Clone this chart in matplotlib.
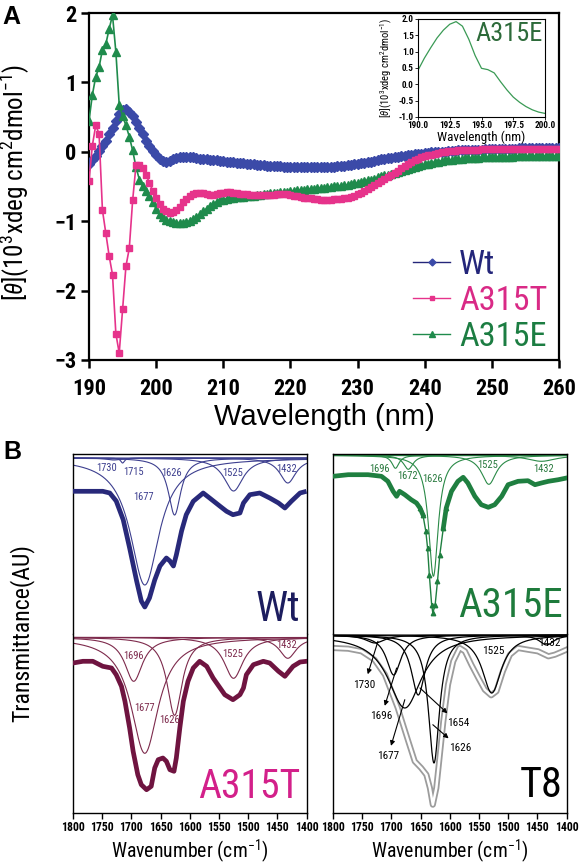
import numpy as np
import matplotlib
matplotlib.use("Agg")
import matplotlib.pyplot as plt
from matplotlib import font_manager as fm

# ---- pick a condensed sans font if one is installed ----
_fonts = {}
for _f in fm.fontManager.ttflist:
    _fonts.setdefault(_f.name, set()).add(str(_f.stretch))

NARROW, STRETCH, SCALE = "Liberation Sans", "normal", 0.84
for _n, _sc in [("Liberation Sans Narrow", 1.0), ("Arial Narrow", 1.0),
                ("Nimbus Sans Narrow", 1.0), ("Roboto Condensed", 0.95),
                ("Noto Sans Condensed", 0.95), ("Open Sans Condensed", 0.95)]:
    if _n in _fonts:
        NARROW, STRETCH, SCALE = _n, "normal", _sc
        break
else:
    for _n in ["Roboto", "Noto Sans", "Open Sans"]:
        _st = [s for s in _fonts.get(_n, ()) if "condensed" in s]
        if _st:
            NARROW, STRETCH, SCALE = _n, ("condensed" if "condensed" in _st
                                          else _st[0]), 0.95
            break
REG = "Liberation Sans"


def nfs(x):
    return round(x * SCALE, 1)


plt.rcParams["font.family"] = [NARROW, "DejaVu Sans"]
plt.rcParams["font.stretch"] = STRETCH
plt.rcParams["mathtext.fontset"] = "custom"
plt.rcParams["mathtext.rm"] = NARROW
plt.rcParams["mathtext.it"] = NARROW + ":italic"
plt.rcParams["mathtext.bf"] = NARROW + ":bold"

# ---------------- Panel A data (CD spectra) ----------------
cd_wavelength = np.arange(190, 260.01, 0.5)
cd_wt = [
    -0.17, -0.12, -0.06, 0.01, 0.08, 0.16, 0.25, 0.35, 0.45, 0.54,
    0.60, 0.61, 0.57, 0.51, 0.43, 0.34, 0.25, 0.16, 0.08, 0.01,
    -0.05, -0.10, -0.13, -0.14, -0.13, -0.11, -0.09, -0.08, -0.07, -0.07,
    -0.075, -0.08, -0.09, -0.10, -0.105, -0.11, -0.115, -0.12, -0.125, -0.13,
    -0.135, -0.14, -0.145, -0.15, -0.155, -0.16, -0.165, -0.17, -0.175, -0.18,
    -0.185, -0.19, -0.195, -0.20, -0.20, -0.205, -0.21, -0.21, -0.215, -0.215,
    -0.22, -0.22, -0.22, -0.225, -0.225, -0.225, -0.225, -0.225, -0.225, -0.225,
    -0.225, -0.22, -0.22, -0.215, -0.21, -0.205, -0.20, -0.195, -0.19, -0.18,
    -0.17, -0.165, -0.16, -0.15, -0.14, -0.13, -0.12, -0.11, -0.10, -0.095,
    -0.09, -0.08, -0.07, -0.065, -0.06, -0.05, -0.04, -0.035, -0.03, -0.025,
    -0.02, -0.015, -0.01, -0.005, 0.0, 0.0, 0.0, 0.005, 0.01, 0.015,
    0.02, 0.02, 0.02, 0.025, 0.03, 0.03, 0.03, 0.03, 0.035, 0.035,
    0.04, 0.04, 0.04, 0.04, 0.045, 0.045, 0.045, 0.045, 0.05, 0.05,
    0.05, 0.05, 0.05, 0.05, 0.05, 0.05, 0.05, 0.05, 0.05, 0.05,
    0.05]
cd_a315t = [
    -0.42, 0.09, 0.38, 0.26, -0.84, -1.17, -1.50, -1.77, -2.62, -2.90,
    -2.27, -1.65, -1.39, -0.70, -0.19, -0.19, -0.24, -0.33, -0.45, -0.56,
    -0.66, -0.75, -0.82, -0.86, -0.88, -0.87, -0.84, -0.79, -0.73, -0.68,
    -0.64, -0.61, -0.59, -0.59, -0.60, -0.61, -0.62, -0.62, -0.61, -0.60,
    -0.59, -0.585, -0.585, -0.59, -0.60, -0.605, -0.61, -0.615, -0.62, -0.62,
    -0.62, -0.62, -0.62, -0.62, -0.62, -0.62, -0.615, -0.61, -0.61, -0.615,
    -0.62, -0.63, -0.64, -0.65, -0.66, -0.665, -0.67, -0.68, -0.685, -0.69,
    -0.69, -0.69, -0.69, -0.685, -0.68, -0.675, -0.67, -0.66, -0.65, -0.63,
    -0.61, -0.59, -0.57, -0.54, -0.51, -0.48, -0.45, -0.42, -0.39, -0.36,
    -0.33, -0.30, -0.27, -0.24, -0.21, -0.18, -0.15, -0.12, -0.10, -0.08,
    -0.06, -0.05, -0.04, -0.03, -0.02, -0.01, 0.0, 0.005, 0.01, 0.015,
    0.02, 0.02, 0.025, 0.025, 0.03, 0.03, 0.03, 0.035, 0.035, 0.035,
    0.04, 0.04, 0.04, 0.04, 0.04, 0.04, 0.04, 0.04, 0.04, 0.04,
    0.04, 0.04, 0.04, 0.04, 0.04, 0.04, 0.04, 0.04, 0.04, 0.04,
    0.04]
cd_a315e = [
    0.45, 0.82, 1.08, 1.22, 1.47, 1.55, 1.77, 1.97, 1.44, 0.68,
    0.52, 0.38, 0.22, 0.02, -0.22, -0.40, -0.50, -0.56, -0.64, -0.73,
    -0.82, -0.89, -0.94, -0.98, -1.0, -1.01, -1.02, -1.02, -1.02, -1.01,
    -1.0, -0.97, -0.94, -0.90, -0.86, -0.82, -0.78, -0.75, -0.72, -0.70,
    -0.69, -0.68, -0.67, -0.66, -0.655, -0.65, -0.645, -0.64, -0.635, -0.63,
    -0.625, -0.62, -0.61, -0.605, -0.60, -0.595, -0.59, -0.585, -0.58, -0.575,
    -0.565, -0.56, -0.555, -0.55, -0.545, -0.54, -0.535, -0.53, -0.525, -0.52,
    -0.515, -0.51, -0.505, -0.50, -0.495, -0.49, -0.485, -0.475, -0.465, -0.455,
    -0.445, -0.435, -0.42, -0.41, -0.40, -0.385, -0.37, -0.355, -0.34, -0.33,
    -0.32, -0.305, -0.29, -0.28, -0.265, -0.25, -0.235, -0.22, -0.21, -0.195,
    -0.18, -0.17, -0.16, -0.15, -0.14, -0.13, -0.125, -0.12, -0.115, -0.11,
    -0.105, -0.10, -0.095, -0.09, -0.09, -0.085, -0.085, -0.08, -0.08, -0.08,
    -0.08, -0.075, -0.075, -0.07, -0.07, -0.07, -0.07, -0.065, -0.065, -0.065,
    -0.065, -0.065, -0.06, -0.06, -0.06, -0.06, -0.06, -0.06, -0.06, -0.06,
    -0.06]
cd_series_names = ["Wt", "A315T", "A315E"]

# inset (A315E, 190-200 nm)
inset_wavelength = np.arange(190, 200.01, 0.5)
inset_a315e = [0.43, 0.80, 1.12, 1.42, 1.66, 1.84, 1.92, 1.78, 1.38, 0.88,
               0.49, 0.45, 0.35, 0.08, -0.17, -0.39, -0.55, -0.68, -0.78, -0.85,
               -0.89]

# ---------------- Panel B data (FTIR) ----------------
wt_w = [1800, 1749, 1737, 1726, 1714, 1703, 1691, 1683, 1677, 1669, 1660, 1651,
        1640, 1634, 1628, 1623, 1614, 1606, 1594, 1577, 1566, 1548, 1537, 1526,
        1514, 1508, 1497, 1480, 1463, 1448, 1437, 1426, 1411, 1400]
wt_t = [142.7, 142.7, 141, 133, 114.3, 86, 53, 33, 27, 36, 54, 68,
        76, 73, 68, 79, 103, 119.3, 132.7, 141, 136, 127.7, 122.7, 119.3,
        121, 131, 139.3, 141, 136, 131, 126, 132.7, 141, 142.7]
wt_band_center = [1730, 1715, 1677, 1626, 1525, 1432]
wt_band_depth = [2, 5, 127, 57, 33, 25]
wt_band_fwhm = [30, 8, 60, 26, 40, 34]
wt_baseline = 176
wt_labels = ["1730", "1715", "1677", "1626", "1525", "1432"]
wt_label_w = [1742, 1697, 1679, 1631, 1526, 1435]
wt_label_t = [166, 162, 137, 161, 161, 165.3]

a315t_w = [1800, 1783, 1766, 1749, 1734, 1726, 1717, 1711, 1703, 1697, 1689,
           1683, 1674, 1666, 1660, 1654, 1646, 1640, 1634, 1627, 1623, 1617,
           1611, 1603, 1594, 1583, 1571, 1560, 1548, 1540, 1526, 1514, 1508,
           1503, 1491, 1474, 1463, 1448, 1437, 1423, 1411, 1400]
a315t_t = [150, 151.7, 151.7, 146.7, 145, 138.3, 126.7, 111.7, 85, 61.7, 38.3,
           28.3, 23.3, 26.7, 45, 53.3, 55, 51.7, 43.3, 41.7, 55, 85,
           111.7, 131.7, 145, 151.7, 146.7, 135, 125, 118.3, 113.3, 118.3, 125,
           138.3, 148.3, 151.7, 150, 141.7, 136.7, 146.7, 151, 151.7]
a315t_band_center = [1696, 1677, 1626, 1525, 1432]
a315t_band_depth = [44, 116, 78, 41, 21]
a315t_band_fwhm = [37, 57, 31, 40, 35]
a315t_baseline = 175.7
a315t_labels = ["1696", "1677", "1626", "1525", "1432"]
a315t_label_w = [1697, 1677, 1635, 1526, 1435]
a315t_label_t = [156.7, 105, 93.3, 159, 168.3]

a315e_w = [1800, 1774, 1740, 1717, 1706, 1697, 1691, 1686, 1677, 1666, 1657,
           1651, 1646, 1641, 1638, 1635, 1631, 1629, 1625, 1621, 1617, 1611,
           1606, 1597, 1586, 1577, 1569, 1557, 1546, 1534, 1523, 1511, 1500,
           1483, 1466, 1454, 1443, 1431, 1414, 1400]
a315e_t = [157.7, 159.3, 159.3, 157.7, 152.7, 142.7, 137.7, 142.7, 139.3, 134.3,
           131, 126, 119.3, 102.7, 86, 59.3, 29.3, 21, 29.3, 52.7, 79.3, 106,
           126, 142.7, 152.7, 156.7, 151, 137.7, 129.3, 126.7, 129.3, 137.7,
           149.3, 152.7, 153.3, 149.3, 151, 152.7, 154.3, 156]
a315e_band_center = [1693, 1671, 1628, 1533, 1443]
a315e_band_depth = [13, 14, 121, 29, 6]
a315e_band_fwhm = [15, 20, 20, 31, 60]
a315e_baseline = 178.7
a315e_labels = ["1696", "1672", "1626", "1525", "1432"]
a315e_label_w = [1720, 1672.6, 1630, 1535, 1440]
a315e_label_t = [165.3, 157.7, 155.3, 169.3, 165.3]

t8_w = [1800, 1774, 1751, 1729, 1711, 1700, 1689, 1680, 1671, 1660, 1649,
        1640, 1634, 1629, 1623, 1617, 1611, 1603, 1594, 1583, 1574, 1563,
        1551, 1540, 1529, 1520, 1509, 1497, 1483, 1466, 1449, 1431, 1420,
        1409, 1400]
t8_t = [165, 164.3, 161.7, 153.3, 138.3, 121.7, 105, 88.3, 71.7, 51.7, 45,
        38.3, 25, 8.3, 25, 58.3, 91.7, 128.3, 151.7, 165, 161.7, 148.3,
        135, 123.3, 117.7, 121.7, 141.7, 158.3, 165, 163.3, 161.7, 156.7, 158.3,
        161, 163.3]
t8_band_center = [1728, 1696, 1677, 1654, 1627, 1528, 1434]
t8_band_depth = [8, 40, 73, 60, 128, 58, 10]
t8_band_fwhm = [40, 30, 70, 29, 23, 40, 30]
t8_baseline = 178
t8_labels = ["1730", "1696", "1677", "1654", "1626"]
t8_label_w = [1746, 1717, 1706, 1586, 1583]
t8_label_t = [128.3, 96.7, 56.7, 90, 65]
t8_arrow_w = [1723, 1691, 1677, 1651, 1629]
t8_arrow_t = [171.7, 145, 113.3, 125, 88.3]
t8_plain_labels = ["1525", "1432"]
t8_plain_w = [1526, 1429]
t8_plain_t = [161.7, 170]

ftir_ticks = [1800, 1750, 1700, 1650, 1600, 1550, 1500, 1450, 1400]

# ---------------- colours ----------------
C_WT_A, C_T_A, C_E_A = "#3b4aa8", "#e6338b", "#1f8b4c"
C_WT_TXT, C_T_TXT, C_E_TXT = "#24267a", "#d92a86", "#1c7d42"

# ---------------- figure ----------------
W, H = 582, 865
fig = plt.figure(figsize=(W / 100, H / 100), dpi=100)


def box(l, t, r, b):
    return [l / W, 1 - b / H, (r - l) / W, (b - t) / H]


# ===== Panel A =====
axA = fig.add_axes(box(89, 13, 559, 360))
axA.plot(cd_wavelength, cd_wt, color=C_WT_A, lw=1.2, marker="D", ms=5.0,
         mec=C_WT_A, mfc=C_WT_A, label=cd_series_names[0], zorder=3)
axA.plot(cd_wavelength, cd_a315e, color=C_E_A, lw=1.2, marker="^", ms=5.6,
         mec=C_E_A, mfc=C_E_A, label=cd_series_names[2], zorder=4)
axA.plot(cd_wavelength, cd_a315t, color=C_T_A, lw=1.2, marker="s", ms=4.6,
         mec=C_T_A, mfc=C_T_A, label=cd_series_names[1], zorder=5)
axA.set_xlim(190, 260)
axA.set_ylim(-3, 2)
axA.set_xticks(range(190, 261, 10))
axA.set_yticks(range(-3, 3))
for s in axA.spines.values():
    s.set_linewidth(1.6)
axA.tick_params(axis="both", direction="out", length=6, width=1.8,
                labelsize=nfs(17))
axA.tick_params(axis="x", pad=7)
axA.tick_params(axis="y", pad=3)
for lab in axA.get_xticklabels() + axA.get_yticklabels():
    lab.set_fontweight("bold")
axA.set_xlabel("Wavelength (nm)", fontsize=21, family=[REG, "DejaVu Sans"],
               va="center")
axA.xaxis.set_label_coords(0.5, -0.164)
axA.set_ylabel(r"$[\mathit{\theta}]$(10$^3$xdeg cm$^2$dmol$^{-1}$)",
               fontsize=nfs(19), va="center")
axA.yaxis.set_label_coords(-0.157, 0.513)

h = axA.get_legend_handles_labels()
handles = [h[0][0], h[0][2], h[0][1]]
labels = ["Wt", "A315T", "A315E"]
leg = axA.legend(handles, labels, loc="lower right",
                 bbox_to_anchor=(0.975, 0.02), frameon=False,
                 fontsize=nfs(26), handlelength=1.1, handletextpad=0.25,
                 labelspacing=0.12, numpoints=1, borderpad=0, borderaxespad=0,
                 markerscale=0.7)
for txt, c in zip(leg.get_texts(), [C_WT_TXT, C_T_TXT, C_E_TXT]):
    txt.set_color(c)
for lh, c in zip(leg.legend_handles, ["#24267a", C_T_A, C_E_A]):
    lh.set_color(c)
    lh.set_linewidth(1.0)

# inset
axIn = fig.add_axes(box(418, 19, 545, 117))
axIn.plot(inset_wavelength, inset_a315e, color="#3a9a55", lw=0.9)
axIn.set_xlim(190, 200)
axIn.set_ylim(-1, 2)
axIn.set_xticks([190, 192.5, 195, 197.5, 200])
axIn.set_xticklabels(["190.0", "192.5", "195.0", "197.5", "200.0"])
axIn.set_yticks([-1, -0.5, 0, 0.5, 1, 1.5, 2])
axIn.set_yticklabels(["-1.0", "-0.5", "0.0", "0.5", "1.0", "1.5", "2.0"])
axIn.tick_params(direction="out", length=2, width=0.6, labelsize=nfs(7),
                 pad=1)
for lab in axIn.get_xticklabels() + axIn.get_yticklabels():
    lab.set_fontweight("bold")
for s in axIn.spines.values():
    s.set_linewidth(0.8)
axIn.set_xlabel("Wavelength (nm)", fontsize=nfs(10), labelpad=0)
axIn.set_ylabel(r"$[\mathit{\theta}]$(10$^3$xdeg cm$^2$dmol$^{-1}$)",
                fontsize=nfs(8), va="center")
axIn.yaxis.set_label_coords(-0.25, 0.5)
axIn.text(0.985, 0.965, "A315E", transform=axIn.transAxes, ha="right",
          va="top", fontsize=nfs(20), color="#2d6b3a")

fig.text(2 / W, 1 - 17 / H, "A", fontsize=18, fontweight="bold",
         family=[REG, "DejaVu Sans"], va="center", ha="left")
fig.text(3 / W, 1 - 452 / H, "B", fontsize=18, fontweight="bold",
         family=[REG, "DejaVu Sans"], va="center", ha="left")

# ===== Panel B =====
band_grid = np.linspace(1800, 1400, 801)


def draw_bands(ax, centers, depths, fwhms, base, color, lw):
    for c, d, f in zip(centers, depths, fwhms):
        prof = base - d / (1.0 + ((band_grid - c) / (f / 2.0)) ** 2)
        ax.plot(band_grid, prof, color=color, lw=lw, zorder=2)


def setup_b(ax, top, height):
    ax.set_xlim(1800, 1400)
    ax.set_ylim(0, height)
    ax.set_yticks([])
    for s in ax.spines.values():
        s.set_linewidth(1.0)
    if top:
        ax.spines["bottom"].set_visible(False)
        ax.set_xticks([])
    else:
        ax.spines["top"].set_visible(False)
        ax.set_xticks(ftir_ticks)
        ax.tick_params(axis="x", direction="out", length=4, width=1.0,
                       labelsize=nfs(9), pad=2)
        for lab in ax.get_xticklabels():
            lab.set_fontweight("bold")
        ax.set_xlabel("Wavenumber (cm$^{-1}$)", fontsize=nfs(15), labelpad=2)


axWt = fig.add_axes(box(73, 454, 306.5, 634))
axT = fig.add_axes(box(73, 634, 306.5, 813))
axE = fig.add_axes(box(333, 454, 566.5, 634))
axT8 = fig.add_axes(box(333, 634, 566.5, 813))
setup_b(axWt, True, 180)
setup_b(axT, False, 179)
setup_b(axE, True, 180)
setup_b(axT8, False, 179)

# Wt
draw_bands(axWt, wt_band_center, wt_band_depth, wt_band_fwhm, wt_baseline,
           "#3d3f8f", 0.8)
axWt.plot(wt_w, wt_t, color="#28297a", lw=3.4, solid_joinstyle="round",
          solid_capstyle="butt", zorder=3)
for s, x, y in zip(wt_labels, wt_label_w, wt_label_t):
    axWt.text(x, y, s, fontsize=nfs(8), color="#3d3f8f", ha="center",
              va="center", zorder=4)
axWt.text(0.972, 0.02, "Wt", transform=axWt.transAxes, ha="right",
          va="bottom", fontsize=nfs(32), color="#1c1d5e")

# A315T
draw_bands(axT, a315t_band_center, a315t_band_depth, a315t_band_fwhm,
           a315t_baseline, "#7d2a4c", 0.8)
axT.plot(a315t_w, a315t_t, color="#6f1440", lw=3.4, solid_joinstyle="round",
         zorder=3)
for s, x, y in zip(a315t_labels, a315t_label_w, a315t_label_t):
    axT.text(x, y, s, fontsize=nfs(8), color="#7d2a4c", ha="center",
             va="center", zorder=4)
axT.text(0.972, 0.04, "A315T", transform=axT.transAxes, ha="right",
         va="bottom", fontsize=nfs(30), color="#d3208a")

# A315E
draw_bands(axE, a315e_band_center, a315e_band_depth, a315e_band_fwhm,
           a315e_baseline, "#2a8a47", 0.8)
ew = np.array(a315e_w)
et = np.array(a315e_t)
left = ew >= 1646
right = ew <= 1611
mid = (ew <= 1651) & (ew >= 1606)
for m in (left, right):
    axE.plot(ew[m], et[m], color="#1f7f40", lw=3.4, solid_joinstyle="round",
             zorder=3)
axE.plot(ew[mid], et[mid], color="#1f7f40", lw=1.0, marker="^", ms=3.2,
         zorder=3)
for s, x, y in zip(a315e_labels, a315e_label_w, a315e_label_t):
    axE.text(x, y, s, fontsize=nfs(8), color="#2a7a3f", ha="center",
             va="center", zorder=4)
axE.text(0.985, 0.05, "A315E", transform=axE.transAxes, ha="right",
         va="bottom", fontsize=nfs(31), color="#1e7b3c")

# T8
axT8.plot(t8_w, t8_t, color="#9c9c9c", lw=4.4, solid_joinstyle="round",
          zorder=2)
axT8.plot(t8_w, t8_t, color="white", lw=1.8, solid_joinstyle="round",
          zorder=2)
draw_bands(axT8, t8_band_center, t8_band_depth, t8_band_fwhm, t8_baseline,
           "black", 0.9)
for s, x, y, ax_, ay_ in zip(t8_labels, t8_label_w, t8_label_t, t8_arrow_w,
                             t8_arrow_t):
    axT8.annotate(s, xy=(ax_, ay_), xytext=(x, y), fontsize=nfs(8.5),
                  ha="center", va="center", zorder=5,
                  arrowprops=dict(arrowstyle="<|-", color="black", lw=0.8,
                                  mutation_scale=7, shrinkA=2, shrinkB=0))
for s, x, y in zip(t8_plain_labels, t8_plain_w, t8_plain_t):
    axT8.text(x, y, s, fontsize=nfs(8.5), ha="center", va="center", zorder=5)
axT8.text(0.985, 0.04, "T8", transform=axT8.transAxes, ha="right",
          va="bottom", fontsize=nfs(32), color="black")

fig.text(22 / W, 1 - 633 / H, "Transmittance(AU)", rotation=90,
         fontsize=nfs(18), ha="center", va="center")

fig.savefig("out.png", dpi=100)
